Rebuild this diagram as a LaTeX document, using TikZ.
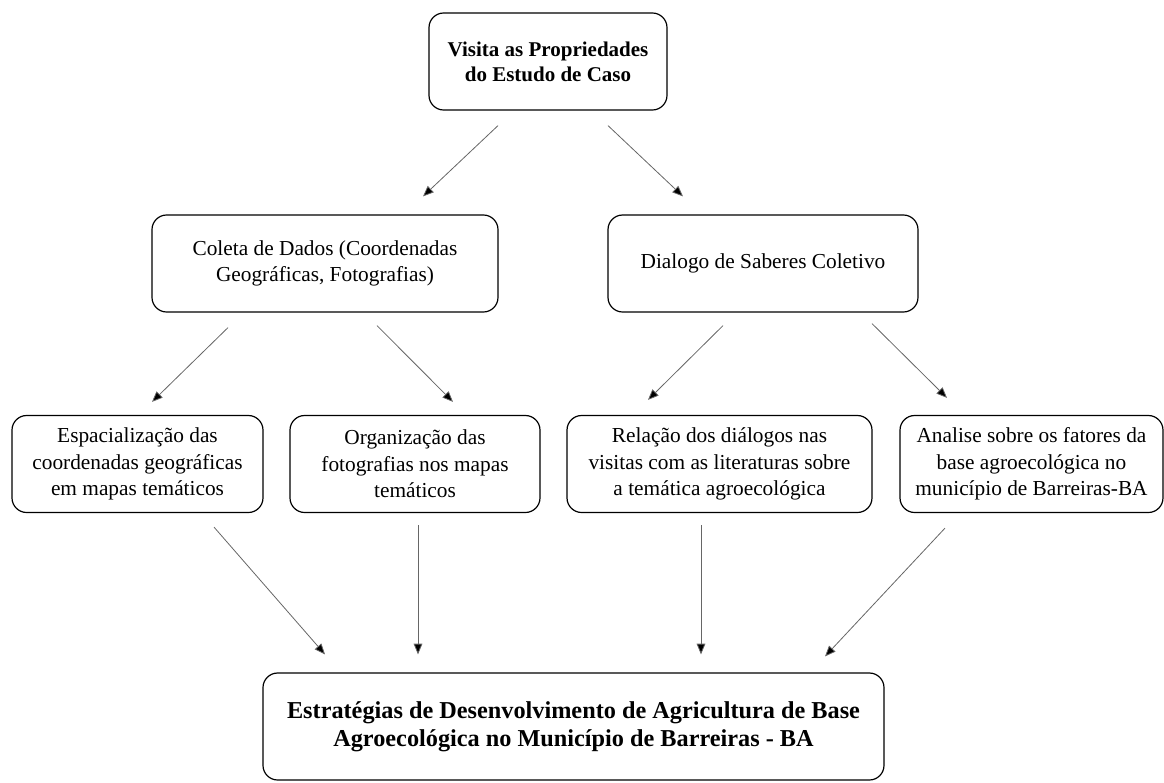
\documentclass[tikz,border=0pt]{standalone}
\usepackage{fontspec}
\setmainfont{Liberation Serif}
\usepackage{tikz}
\usetikzlibrary{shapes.geometric, arrows.meta}
\tikzstyle{arrow} = [draw=black!60, line width=0.6pt, -{Triangle[length=8pt,width=6.5pt,fill=black]}]
\tikzstyle{box} = [draw, line width=0.9pt, rounded corners=11pt, align=center, inner sep=0pt, minimum height=72.75pt, font=\fontsize{16}{20}\selectfont]

\begin{document}
\begin{tikzpicture}[x=0.75pt, y=-0.75pt]
	% Frame of the picture (coordinates in pixels):
	\useasboundingbox (0,0) rectangle (1164,782);

	% Top level:
	\node [box, minimum width=178.5pt, font=\fontsize{15.75}{18.75}\selectfont\bfseries] (visita) at (548,61.5) {Visita as Propriedades\\do Estudo de Caso};

	% Second level:
	\node [box, minimum width=259.5pt] (coleta)  at (325,263.5) {Coleta de Dados (Coordenadas\\Geográficas, Fotografias)};
	\node [box, minimum width=232.5pt] (dialogo) at (763,263.5) {Dialogo de Saberes Coletivo};

	% Third level:
	\begin{scope}[every node/.append style={minimum height=73.5pt}]
	\node [box, minimum width=188.25pt] (espacial)  at (137.5,464) {Espacialização das\\coordenadas geográficas\\em mapas temáticos};
	\node [box, minimum width=187.5pt]  (organiza)  at (415,464)   {Organização das\\fotografias nos mapas\\temáticos};
	\node [box, minimum width=228.75pt] (relacao)   at (719.5,464) {Relação dos diálogos nas\\visitas com as literaturas sobre\\a temática agroecológica};
	\node [box, minimum width=197.25pt] (analise)   at (1031.5,464) {Analise sobre os fatores da\\base agroecológica no\\município de Barreiras-BA};
	\end{scope}

	% Bottom:
	\node [box, minimum width=465.75pt, minimum height=80.25pt, font=\fontsize{18.2}{21}\selectfont\bfseries] (estrategias) at (573.5,726.5) {Estratégias de Desenvolvimento de Agricultura de Base\\Agroecológica no Município de Barreiras - BA};

	% Arrows (they stop short of the boxes):
	\draw [arrow] ([shift={(-50,15)}]visita.south) -- ([shift={(98,-18)}]coleta.north);
	\draw [arrow] ([shift={(60,15)}]visita.south) -- ([shift={(-80,-18)}]dialogo.north);
	\draw [arrow] ([shift={(-97,15)}]coleta.south) -- ([shift={(14.5,-13)}]espacial.north);
	\draw [arrow] ([shift={(52,13)}]coleta.south) -- ([shift={(38,-13)}]organiza.north);
	\draw [arrow] ([shift={(-40,13)}]dialogo.south) -- ([shift={(-71.5,-15)}]relacao.north);
	\draw [arrow] ([shift={(109,11)}]dialogo.south) -- ([shift={(-84.5,-17)}]analise.north);
	\draw [arrow] ([shift={(76.5,14)}]espacial.south) -- ([shift={(-248.5,-18)}]estrategias.north);
	\draw [arrow] ([shift={(3,12)}]organiza.south) -- ([shift={(-155.5,-18)}]estrategias.north);
	\draw [arrow] ([shift={(-18.5,12)}]relacao.south) -- ([shift={(127.5,-18)}]estrategias.north);
	\draw [arrow] ([shift={(-86.5,15)}]analise.south) -- ([shift={(251.5,-16)}]estrategias.north);
\end{tikzpicture}
\end{document}
